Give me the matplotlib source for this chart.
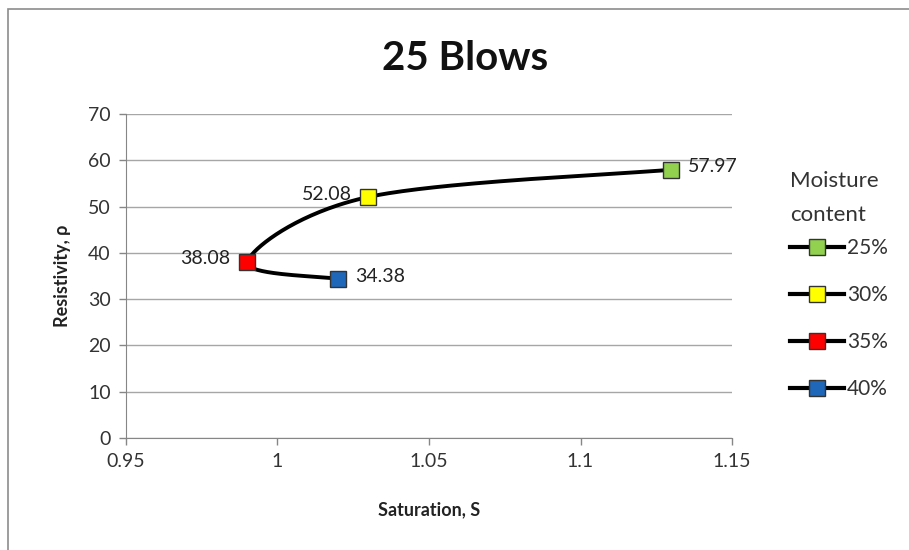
import numpy as np
import matplotlib.pyplot as plt
from matplotlib.lines import Line2D
from matplotlib.patches import Rectangle

# Resistivity vs saturation at 25 blows, one point per moisture content
moisture = ['25%', '30%', '35%', '40%']
saturation = [1.13, 1.03, 0.99, 1.02]
resistivity = [57.97, 52.08, 38.08, 34.38]
colors = ['#92D050', '#FFFF00', '#FF0000', '#1F67B8']
label_side = ['right', 'left', 'left', 'right']

plt.rcParams['font.family'] = ['Lato', 'DejaVu Sans']

fig = plt.figure(figsize=(9.09, 5.5), dpi=100)
ax = fig.add_axes([0.1386, 0.2036, 0.6667, 0.5891])

# outer chart border
fig.patches.append(Rectangle((8 / 909, -0.1), 1.2, 1.1 - 9 / 550, transform=fig.transFigure,
                             fill=False, edgecolor='#8c8c8c', linewidth=1.2))

ax.set_xlim(0.95, 1.15)
ax.set_ylim(0, 70)


def smooth_curve(xs, ys, xr, yr, n=60):
    # Catmull-Rom spline computed in axis-normalised space
    aspect = 323 / 606
    px = (np.array(xs) - xr[0]) / (xr[1] - xr[0])
    py = (np.array(ys) - yr[0]) / (yr[1] - yr[0]) * aspect
    pts = np.column_stack([px, py])
    pts = np.vstack([pts[0], pts, pts[-1]])
    out = []
    for i in range(1, len(pts) - 2):
        p0, p1, p2, p3 = pts[i - 1], pts[i], pts[i + 1], pts[i + 2]
        c1 = p1 + (p2 - p0) / 6
        c2 = p2 - (p3 - p1) / 6
        t = np.linspace(0, 1, n)[:, None]
        seg = (1 - t) ** 3 * p1 + 3 * (1 - t) ** 2 * t * c1 + 3 * (1 - t) * t ** 2 * c2 + t ** 3 * p2
        out.append(seg)
    out = np.vstack(out)
    cx = out[:, 0] * (xr[1] - xr[0]) + xr[0]
    cy = out[:, 1] / aspect * (yr[1] - yr[0]) + yr[0]
    return cx, cy


cx, cy = smooth_curve(saturation, resistivity, (0.95, 1.15), (0, 70))
ax.plot(cx, cy, color='black', linewidth=2.8, solid_capstyle='round', zorder=3)

for x, y, c, side in zip(saturation, resistivity, colors, label_side):
    ax.plot(x, y, marker='s', markersize=12, markerfacecolor=c, markeredgecolor='#333333',
            markeredgewidth=1.0, linestyle='none', zorder=4)
    dx = 12 if side == 'right' else -12
    ax.annotate(f'{y:.2f}', (x, y), xytext=(dx, 2), textcoords='offset points',
                ha='left' if side == 'right' else 'right', va='center',
                fontsize=14, color='#222222')

ax.set_yticks(range(0, 71, 10))
ax.set_xticks([0.95, 1.0, 1.05, 1.1, 1.15])
ax.set_xticklabels(['0.95', '1', '1.05', '1.1', '1.15'])
ax.yaxis.grid(True, color='#a6a6a6', linewidth=1.0)
ax.set_axisbelow(True)
for s in ['top', 'right']:
    ax.spines[s].set_visible(False)
for s in ['left', 'bottom']:
    ax.spines[s].set_color('#868686')
ax.tick_params(axis='both', colors='#868686', labelcolor='#333333', labelsize=14, length=5,
               width=1.0, pad=6)

ax.set_title('25 Blows', fontsize=29, fontweight='bold', color='#111111', pad=32, x=0.56)
ax.set_xlabel('Saturation, S', fontsize=13, fontweight='bold', color='#222222', labelpad=22)
ax.set_ylabel('Resistivity, \u03c1', fontsize=13, fontweight='bold', color='#222222', labelpad=12)

# legend heading drawn separately for wider line spacing
fig.text(790 / 909, 1 - 198 / 550, 'Moisture\ncontent', ha='left', va='center',
         fontsize=16, color='#333333', linespacing=1.9)

handles = [Line2D([0], [0], color='black', linewidth=3, marker='s', markersize=11,
                  markerfacecolor=c, markeredgecolor='#333333') for c in colors]
leg = fig.legend(handles, moisture, loc='center left',
                 bbox_to_anchor=(0.848, 1 - 318.5 / 550), frameon=False, fontsize=15,
                 labelspacing=1.3, handlelength=2.6, handletextpad=0.15)
for t in leg.get_texts():
    t.set_color('#333333')

fig.savefig('out.png', dpi=100, facecolor='white')
